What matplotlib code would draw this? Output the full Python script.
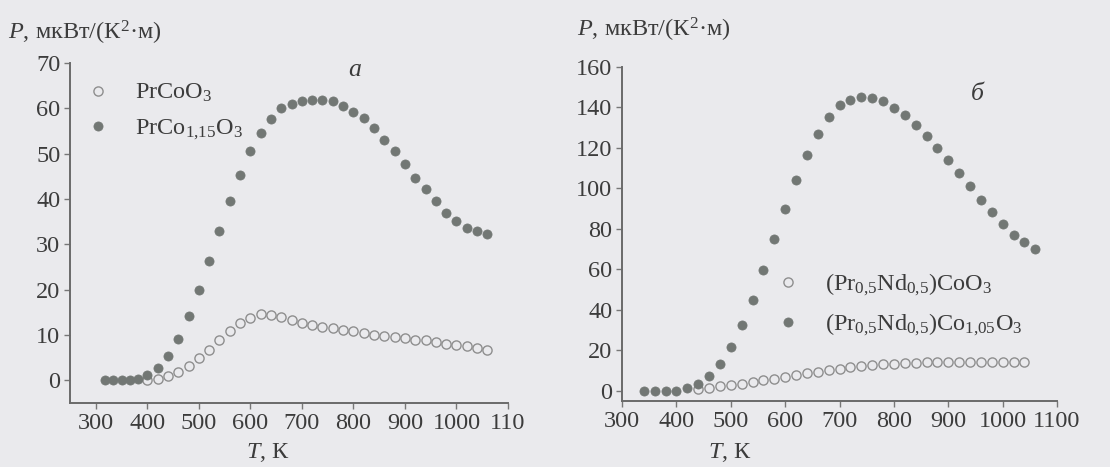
import matplotlib
matplotlib.use('Agg')
import matplotlib.pyplot as plt

# Данные: фактор мощности P vs температура T
# (а) PrCoO3 и PrCo1.15O3
t_a_open = [400, 420, 440, 460, 480, 500, 520, 540, 560, 580, 600, 620, 640, 660, 680, 700, 720,
            740, 760, 780, 800, 820, 840, 860, 880, 900, 920, 940, 960, 980, 1000, 1020, 1040, 1060]
p_a_open = [0.1, 0.4, 1.0, 1.9, 3.2, 4.9, 6.7, 8.8, 10.8, 12.6, 13.8, 14.6, 14.5, 14.0, 13.3, 12.7, 12.2,
            11.7, 11.5, 11.1, 10.8, 10.4, 10.0, 9.8, 9.5, 9.3, 9.0, 8.8, 8.4, 8.1, 7.8, 7.5, 7.1, 6.7]
t_a_fill = [318, 334, 350, 366, 382, 400, 420, 440, 460, 480, 500, 520, 540, 560, 580, 600, 620, 640, 660,
            680, 700, 720, 740, 760, 780, 800, 820, 840, 860, 880, 900, 920, 940, 960, 980, 1000, 1020,
            1040, 1060]
p_a_fill = [0, 0, 0, 0, 0.3, 1.1, 2.7, 5.4, 9.2, 14.2, 19.9, 26.4, 32.9, 39.6, 45.4, 50.5, 54.6, 57.7, 60.1,
            61.0, 61.6, 61.8, 61.8, 61.6, 60.6, 59.3, 57.9, 55.7, 53.1, 50.5, 47.8, 44.7, 42.1, 39.6, 37.0,
            35.2, 33.7, 33.0, 32.2]

# (б) (Pr0.5Nd0.5)CoO3 и (Pr0.5Nd0.5)Co1.05O3
t_b_open = [440, 460, 480, 500, 520, 540, 560, 580, 600, 620, 640, 660, 680, 700, 720, 740, 760, 780,
            800, 820, 840, 860, 880, 900, 920, 940, 960, 980, 1000, 1020, 1040]
p_b_open = [0.7, 1.5, 2.2, 2.9, 3.6, 4.4, 5.3, 6.1, 6.9, 7.8, 8.6, 9.4, 10.2, 11.0, 11.6, 12.2, 12.7, 13.2,
            13.5, 13.8, 14.0, 14.2, 14.2, 14.2, 14.3, 14.3, 14.3, 14.2, 14.2, 14.1, 14.1]
t_b_fill = [340, 360, 380, 400, 420, 440, 460, 480, 500, 520, 540, 560, 580, 600, 620, 640, 660, 680,
            700, 720, 740, 760, 780, 800, 820, 840, 860, 880, 900, 920, 940, 960, 980, 1000, 1020, 1040, 1060]
p_b_fill = [0, 0, 0, 0, 1.2, 3.6, 7.4, 13.5, 21.7, 32.4, 45.1, 59.9, 75.2, 89.7, 104.0, 116.4, 127.1, 135.3,
            141.1, 143.9, 145.2, 144.9, 143.1, 139.9, 136.1, 131.2, 125.8, 120.2, 113.9, 107.7, 101.1, 94.5,
            88.4, 82.3, 76.9, 73.6, 70.3]

x_ticks = [300, 400, 500, 600, 700, 800, 900, 1000, 1100]
x_labels_a = ['300', '400', '500', '600', '700', '800', '900', '1000', '110']
x_labels_b = ['300', '400', '500', '600', '700', '800', '900', '1000', '1100']
y_ticks_a = [0, 10, 20, 30, 40, 50, 60, 70]
y_ticks_b = [0, 20, 40, 60, 80, 100, 120, 140, 160]

labels_a = ['PrCoO$_3$', 'PrCo$_{1{,}15}$O$_3$']
labels_b = ['(Pr$_{0{,}5}$Nd$_{0{,}5}$)CoO$_3$', '(Pr$_{0{,}5}$Nd$_{0{,}5}$)Co$_{1{,}05}$O$_3$']

plt.rcParams['font.family'] = ['Liberation Serif', 'DejaVu Serif']
plt.rcParams['mathtext.fontset'] = 'custom'
plt.rcParams['mathtext.rm'] = 'Liberation Serif'
plt.rcParams['mathtext.it'] = 'Liberation Serif:italic'

bg = '#eaeaed'
txt = '#3c3c3c'
dot = '#727774'
ring = '#8e8e8e'
fs = 17.5

fig = plt.figure(figsize=(11.1, 4.67), dpi=100, facecolor=bg)
W, H = 1110, 467


def px(x0, y0, x1, y1):
    # прямоугольник в пикселях -> доли фигуры
    return [x0 / W, 1 - y1 / H, (x1 - x0) / W, (y1 - y0) / H]


ax_a = fig.add_axes(px(70, 63, 508, 403))
ax_b = fig.add_axes(px(622, 67, 1057, 401))

for ax, xlim, ylim, yt in [(ax_a, (250, 1100), (-5, 70), y_ticks_a),
                           (ax_b, (300, 1100), (-5, 160), y_ticks_b)]:
    ax.set_facecolor(bg)
    ax.set_xlim(*xlim)
    ax.set_ylim(*ylim)
    ax.set_yticks(yt)
    ax.set_xticks(x_ticks)
    for s in ['top', 'right']:
        ax.spines[s].set_visible(False)
    for s in ['left', 'bottom']:
        ax.spines[s].set_color('#6a6a6a')
        ax.spines[s].set_linewidth(1.4)
    ax.tick_params(labelsize=fs, colors='#777777', labelcolor=txt, length=4, width=1, pad=3)

ax_a.set_xticklabels(x_labels_a)
ax_b.set_xticklabels(x_labels_b)

ms = 6.6
ax_a.plot(t_a_open, p_a_open, 'o', ms=ms, mfc='none', mec=ring, mew=1.0, label=labels_a[0])
ax_a.plot(t_a_fill, p_a_fill, 'o', ms=ms, mfc=dot, mec=dot, mew=0.5, label=labels_a[1])
ax_b.plot(t_b_open, p_b_open, 'o', ms=ms, mfc='none', mec=ring, mew=1.0, label=labels_b[0])
ax_b.plot(t_b_fill, p_b_fill, 'o', ms=ms, mfc=dot, mec=dot, mew=0.5, label=labels_b[1])

leg_kw = dict(frameon=False, fontsize=fs, numpoints=1, handlelength=1.0, handletextpad=1.0,
              labelspacing=0.55, borderpad=0, borderaxespad=0, labelcolor=txt,
              bbox_transform=fig.transFigure, loc='upper left')
ax_a.legend(bbox_to_anchor=(86 / W, 1 - 82 / H), **leg_kw)
ax_b.legend(bbox_to_anchor=(776 / W, 1 - 272 / H), **leg_kw)

# подписи осей
ylab = '$P$, мкВт/(К$^2$·м)'
fig.text(8 / W, 1 - 40 / H, ylab, fontsize=fs, color=txt, va='baseline')
fig.text(577 / W, 1 - 37 / H, ylab, fontsize=fs, color=txt, va='baseline')
xlab = '$T$, К'
fig.text(268 / W, 1 - 458 / H, xlab, fontsize=fs, color=txt, va='baseline', ha='center')
fig.text(730 / W, 1 - 458 / H, xlab, fontsize=fs, color=txt, va='baseline', ha='center')

# буквы панелей
fig.text(355 / W, 1 - 76 / H, 'а', fontsize=fs + 1, style='italic', color=txt, va='baseline', ha='center')
fig.text(977 / W, 1 - 100 / H, 'б', fontsize=fs + 1, style='italic', color=txt, va='baseline', ha='center')

fig.savefig('out.png', dpi=100, facecolor=bg)
